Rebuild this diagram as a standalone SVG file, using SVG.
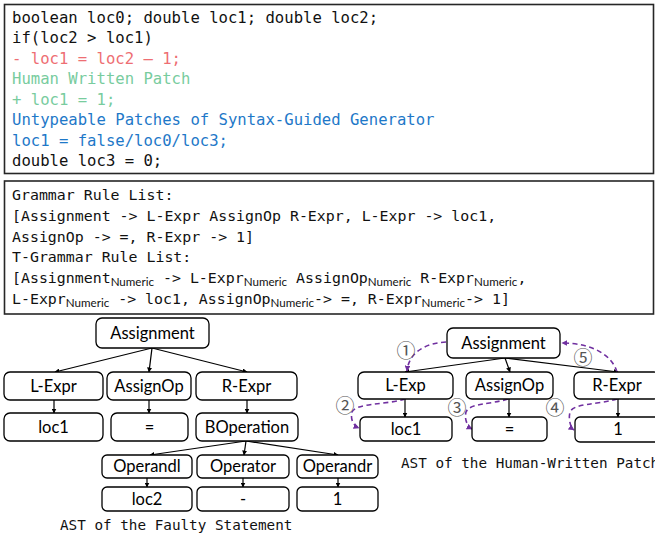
<svg xmlns="http://www.w3.org/2000/svg" width="655" height="537" viewBox="0 0 655 537">
<style>
.frame{fill:#fff;stroke:#262626;stroke-width:1.6}
.code{font-family:"DejaVu Sans Mono","Liberation Mono",monospace;font-size:15.6px;fill:#111}
.gram{font-family:"DejaVu Sans Mono","Liberation Mono",monospace;font-size:14.9px;fill:#111}
.sub{font-family:Lato,"Liberation Sans",sans-serif;font-size:11.6px}
.cap{font-family:"DejaVu Sans Mono","Liberation Mono",monospace;font-size:14.3px;fill:#111}
.node rect{fill:#fff;stroke:#000;stroke-width:1.3}
.node text{font-family:Lato,"Liberation Sans",sans-serif;font-size:16.5px;fill:#000;text-anchor:middle}
.edge{stroke:#000;stroke-width:1.2;fill:none;marker-end:url(#ah)}
.trav{stroke:#7030A0;stroke-width:1.6;fill:none;stroke-dasharray:5 3.5;marker-end:url(#ph)}
.num{font-family:"Noto Sans CJK SC","DejaVu Sans",sans-serif;font-size:19px;fill:#555;text-anchor:middle}
</style>
<defs>
<marker id="ah" viewBox="0 0 10 10" refX="9" refY="5" markerWidth="5" markerHeight="5" orient="auto" markerUnits="userSpaceOnUse"><path d="M0,0 L10,5 L0,10 z" fill="#000"/></marker>
<marker id="ph" viewBox="0 0 10 10" refX="9" refY="5" markerWidth="6" markerHeight="6" orient="auto" markerUnits="userSpaceOnUse"><path d="M0,0 L10,5 L0,10 z" fill="#7030A0"/></marker>
</defs>

<g id="code-box">
<rect class="frame" x="4.5" y="4.5" width="649" height="169"/>
<text class="code" x="12" y="22.5">boolean loc0; double loc1; double loc2;</text>
<text class="code" x="12" y="43">if(loc2 &gt; loc1)</text>
<text class="code" x="12" y="63.5" style="fill:#EE6E73">- loc1 = loc2 – 1;</text>
<text class="code" x="12" y="84" style="fill:#78CC9E">Human Written Patch</text>
<text class="code" x="12" y="104.5" style="fill:#78CC9E">+ loc1 = 1;</text>
<text class="code" x="12" y="125" style="fill:#1E78C8">Untypeable Patches of Syntax-Guided Generator</text>
<text class="code" x="12" y="145.5" style="fill:#1E78C8">loc1 = false/loc0/loc3;</text>
<text class="code" x="12" y="166">double loc3 = 0;</text>
</g>

<g id="grammar-box">
<rect class="frame" x="4.5" y="181" width="649" height="133"/>
<text class="gram" x="12" y="200">Grammar Rule List:</text>
<text class="gram" x="12" y="221">[Assignment -&gt; L-Expr AssignOp R-Expr, L-Expr -&gt; loc1,</text>
<text class="gram" x="12" y="241.5">AssignOp -&gt; =, R-Expr -&gt; 1]</text>
<text class="gram" x="12" y="262">T-Grammar Rule List:</text>
<text class="gram" x="12" y="283">[Assignment<tspan class="sub" dy="3">Numeric</tspan><tspan dy="-3"> -&gt; L-Expr</tspan><tspan class="sub" dy="3">Numeric</tspan><tspan dy="-3"> AssignOp</tspan><tspan class="sub" dy="3">Numeric</tspan><tspan dy="-3"> R-Expr</tspan><tspan class="sub" dy="3">Numeric</tspan><tspan dy="-3">,</tspan></text>
<text class="gram" x="12" y="303.5">L-Expr<tspan class="sub" dy="3">Numeric</tspan><tspan dy="-3"> -&gt; loc1, AssignOp</tspan><tspan class="sub" dy="3">Numeric</tspan><tspan dy="-3">-&gt; =, R-Expr</tspan><tspan class="sub" dy="3">Numeric</tspan><tspan dy="-3">-&gt; 1]</tspan></text>
</g>

<g id="connectors">
<path class="edge" d="M152,348 L55,372"/>
<path class="edge" d="M152,348 L149,372"/>
<path class="edge" d="M152,348 L247,372"/>
<path class="edge" d="M54,400 L54,413"/>
<path class="edge" d="M149,400 L149,413"/>
<path class="edge" d="M247,400 L247,413"/>
<path class="edge" d="M246,441 L150,455"/>
<path class="edge" d="M246,441 L244,455"/>
<path class="edge" d="M246,441 L338,455"/>
<path class="edge" d="M147,478 L147,487"/>
<path class="edge" d="M243,478 L243,487"/>
<path class="edge" d="M338,478 L338,487"/>
<path class="edge" d="M505,358 L405,372"/>
<path class="edge" d="M505,358 L510,372"/>
<path class="edge" d="M505,358 L618,372"/>
<path class="edge" d="M405,399 L405,417"/>
<path class="edge" d="M509,399 L509,417"/>
<path class="edge" d="M618,399 L618,417"/>
<path class="trav" d="M446,342 C426,343 409,352 407,371"/>
<path class="trav" d="M405,399 C385,405 356,403 352,412 C350,420 354,426 359,428"/>
<path class="trav" d="M508,399 C488,405 470,403 466,412 C464,420 468,427 472,429"/>
<path class="trav" d="M617,399 C597,405 574,403 570,412 C568,420 571,428 574,430"/>
<path class="trav" d="M617,372 C612,355 592,343 562,343"/>
</g>

<g id="n-assign-l" class="node"><rect x="96" y="318" width="113" height="30" rx="6"/><text x="152.5" y="339">Assignment</text></g>
<g id="n-lexpr-l" class="node"><rect x="4" y="372" width="99" height="28" rx="6"/><text x="53.5" y="391.5">L-Expr</text></g>
<g id="n-assignop-l" class="node"><rect x="107" y="372" width="84" height="28" rx="6"/><text x="149" y="391.5">AssignOp</text></g>
<g id="n-rexpr-l" class="node"><rect x="196" y="372" width="101" height="28" rx="6"/><text x="246.5" y="391.5">R-Expr</text></g>
<g id="n-loc1-l" class="node"><rect x="4" y="413" width="99" height="28" rx="6"/><text x="53.5" y="432.5">loc1</text></g>
<g id="n-eq-l" class="node"><rect x="111" y="413" width="77" height="28" rx="6"/><text x="149.5" y="432.5">=</text></g>
<g id="n-bop" class="node"><rect x="196" y="413" width="102" height="28" rx="6"/><text x="247" y="432.5">BOperation</text></g>
<g id="n-operandl" class="node"><rect x="102" y="455" width="90" height="23" rx="5"/><text x="147" y="472">Operandl</text></g>
<g id="n-operator" class="node"><rect x="197" y="455" width="92" height="23" rx="5"/><text x="243" y="472">Operator</text></g>
<g id="n-operandr" class="node"><rect x="297" y="455" width="81" height="23" rx="5"/><text x="337.5" y="472">Operandr</text></g>
<g id="n-loc2" class="node"><rect x="102" y="487" width="90" height="24" rx="5"/><text x="147" y="504.5">loc2</text></g>
<g id="n-minus" class="node"><rect x="197" y="487" width="92" height="24" rx="5"/><text x="243" y="504.5">-</text></g>
<g id="n-one-l" class="node"><rect x="297" y="487" width="81" height="24" rx="5"/><text x="337.5" y="504.5">1</text></g>

<g id="n-assign-r" class="node"><rect x="447" y="328" width="113" height="30" rx="6"/><text x="503.5" y="349">Assignment</text></g>
<g id="n-lexp-r" class="node"><rect x="358" y="372" width="95" height="27" rx="6"/><text x="405.5" y="391">L-Exp</text></g>
<g id="n-assignop-r" class="node"><rect x="466" y="372" width="87" height="27" rx="6"/><text x="509.5" y="391">AssignOp</text></g>
<g id="n-rexpr-r" class="node"><rect x="574" y="372" width="86" height="27" rx="6"/><text x="617" y="391">R-Expr</text></g>
<g id="n-loc1-r" class="node"><rect x="360" y="417" width="92" height="24" rx="5"/><text x="406" y="434.5">loc1</text></g>
<g id="n-eq-r" class="node"><rect x="472" y="417" width="75" height="24" rx="5"/><text x="509.5" y="434.5">=</text></g>
<g id="n-one-r" class="node"><rect x="575" y="417" width="86" height="25" rx="5"/><text x="618" y="435">1</text></g>

<g id="steps">
<text class="num" x="406" y="357.5">①</text>
<text class="num" x="345" y="413">②</text>
<text class="num" x="457" y="415">③</text>
<text class="num" x="555" y="415">④</text>
<text class="num" x="583" y="365">⑤</text>
</g>

<text class="cap" x="60" y="530">AST of the Faulty Statement</text>
<text class="cap" x="401" y="468">AST of the Human-Written Patch</text>
</svg>
